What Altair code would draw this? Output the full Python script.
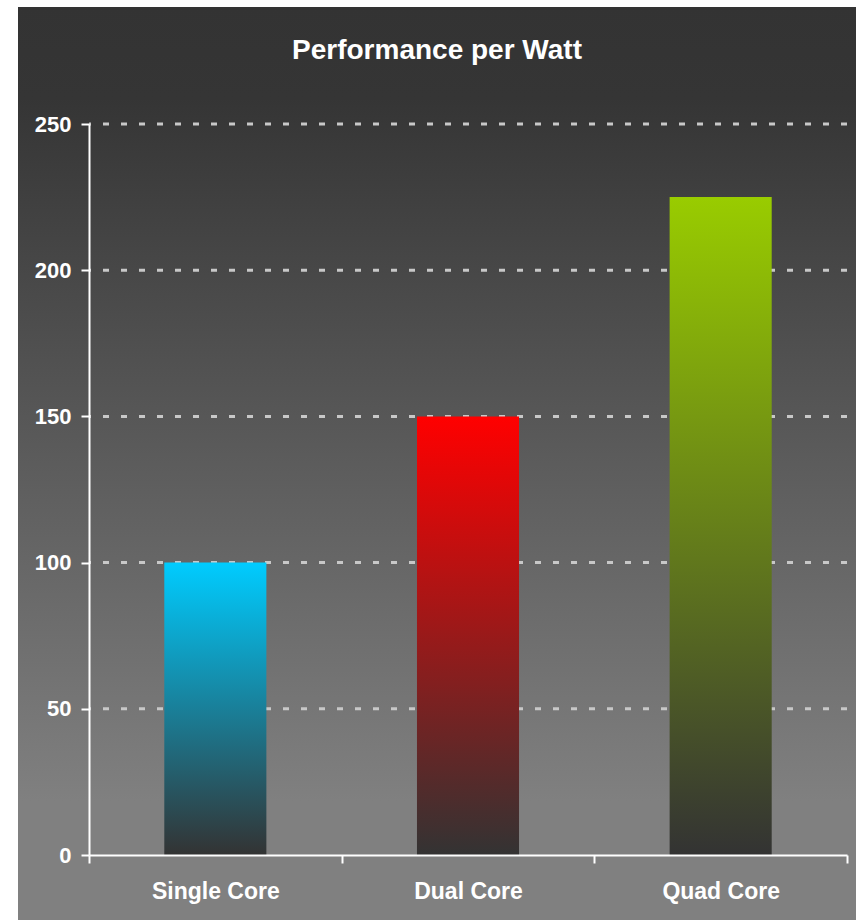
import altair as alt
import pandas as pd

categories = ["Single Core", "Dual Core", "Quad Core"]
values = [100, 150, 225]
top_colors = ["#00CCFF", "#FF0000", "#99CC00"]
bottom_color = "#333333"
grid_values = [50, 100, 150, 200, 250]
y_ticks = [0, 50, 100, 150, 200, 250]
title_text = "Performance per Watt"

W, H = 758, 731
FONT = "Liberation Sans"

df = pd.DataFrame({"core": categories, "value": values})
grid_df = pd.DataFrame({"value": grid_values})


def lin(stops):
    return alt.LinearGradient(
        gradient="linear",
        stops=[alt.GradientStop(color=c, offset=o) for o, c in stops],
        x1=0, x2=0, y1=0, y2=1,
    )


axis_style = dict(
    domainColor="white",
    domainWidth=2,
    tickColor="white",
    tickWidth=2,
    tickSize=8,
    labelColor="white",
    labelFont=FONT,
    labelFontWeight="bold",
    grid=False,
    zindex=2,
)

x_enc = alt.X(
    "core:N",
    sort=categories,
    title=None,
    scale=alt.Scale(paddingInner=0, paddingOuter=0),
    axis=alt.Axis(labelAngle=0, tickBand="extent", labelPadding=17,
                  labelFontSize=23, **axis_style),
)
y_scale = alt.Scale(domain=[0, 250], nice=False)
y_axis = alt.Axis(values=y_ticks, labelPadding=10, labelFontSize=22, **axis_style)
y_enc = alt.Y("value:Q", scale=y_scale, title=None, axis=y_axis)

bg = alt.Chart(pd.DataFrame({"a": [0]})).mark_rect(
    fill=lin([(0, "#333333"), (0.10, "#353535"), (0.87, "#808080"), (1, "#808080")]),
    clip=False,
).encode(
    x=alt.value(-71), x2=alt.value(W + 9), y=alt.value(-117), y2=alt.value(H + 65)
)

grid = alt.Chart(grid_df).mark_rule(
    color="#c8c8c8", strokeWidth=3, strokeDash=[6, 12]
).encode(y=y_enc)

bars = []
for cat, col in zip(categories, top_colors):
    bars.append(
        alt.Chart(df)
        .transform_filter(alt.datum.core == cat)
        .mark_bar(fill=lin([(0, col), (1, bottom_color)]),
                  width=alt.RelativeBandSize(0.404))
        .encode(x=x_enc, y=y_enc)
    )

chart = (
    alt.layer(bg, grid, *bars)
    .properties(
        width=W,
        height=H,
        autosize=alt.AutoSizeParams(type="none"),
        padding={"left": 89, "top": 124, "right": 10, "bottom": 65},
        background="white",
        title=alt.Title(
            title_text,
            anchor="middle",
            baseline="alphabetic",
            offset=-80,
            dx=-31,
            font=FONT,
            fontSize=28,
            fontWeight="bold",
            color="white",
        ),
    )
    .configure_view(stroke=None)
)

chart.save("out.html", embed_options={"renderer": "svg", "actions": False})
